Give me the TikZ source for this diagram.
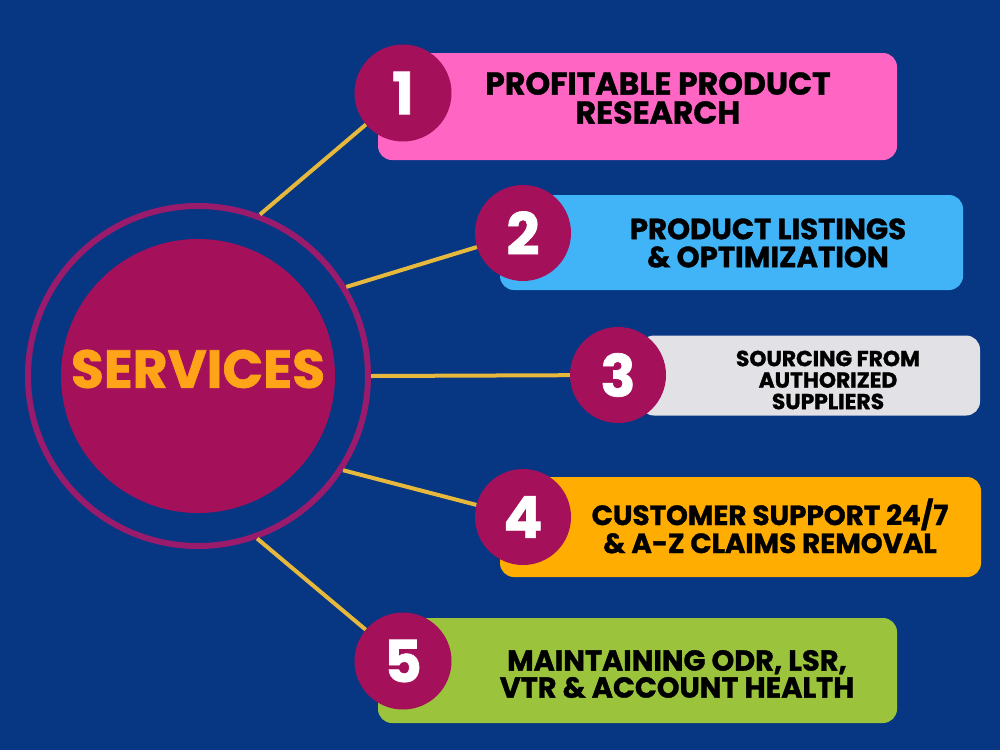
\documentclass[tikz,border=0pt]{standalone}
\usepackage{fontspec}
\setmainfont{Poppins}[BoldFeatures={FakeBold=1.2}]
\definecolor{bgblue}{HTML}{073683}
\definecolor{ringcol}{HTML}{9A1B6C}
\definecolor{corecol}{HTML}{A5105A}
\definecolor{goldline}{HTML}{E6B83C}
\definecolor{titlecol}{HTML}{FFA418}
\definecolor{pinkbox}{HTML}{FF66C4}
\definecolor{bluebox}{HTML}{40B4F7}
\definecolor{graybox}{HTML}{E1E1E6}
\definecolor{orangebox}{HTML}{FFAD00}
\definecolor{greenbox}{HTML}{9BC43C}
\definecolor{numcol}{HTML}{A5105A}
\begin{document}
\begin{tikzpicture}[x=1pt,y=-1pt,
  conn/.style={draw=goldline, line width=4pt},
  numc/.style={circle, fill=numcol, inner sep=0pt, text=white,
    font=\fontsize{58}{58}\selectfont\bfseries},
  card/.style={rounded corners=14pt, inner sep=0pt},
  lbl/.style={align=center, text=black, inner sep=0pt}]
\fill[bgblue] (0,0) rectangle (1000,750);
\useasboundingbox (0,0) rectangle (1000,750);

% central hub
\node[circle, draw=ringcol, line width=6pt, minimum size=340pt, inner sep=0pt] (ring) at (198,376) {};
\node[circle, fill=corecol, minimum size=274pt, inner sep=0pt] (core) at (198,376) {};
\node[text=titlecol, inner sep=0pt, font=\fontsize{53.5}{53.5}\selectfont\bfseries] (title) at (198,369) {SERVICES};

% cards
\node[card, fill=pinkbox, minimum width=519pt, minimum height=107pt] (b1) at (637.5,106.5) {};
\node[card, fill=bluebox, minimum width=463pt, minimum height=95pt] (b2) at (731.5,242.5) {};
\node[card, fill=graybox, minimum width=340pt, minimum height=80pt] (b3) at (810,375.5) {};
\node[card, fill=orangebox, minimum width=481pt, minimum height=100pt] (b4) at (740.5,527) {};
\node[card, fill=greenbox, minimum width=519pt, minimum height=105pt] (b5) at (637.5,670.5) {};

% labels
\node[lbl, font=\fontsize{31.5}{29}\selectfont\bfseries] (t1) at (658,98) {PROFITABLE PRODUCT\\RESEARCH};
\node[lbl, font=\fontsize{29.2}{28}\selectfont\bfseries] (t2) at (768,243) {PRODUCT LISTINGS\\\& OPTIMIZATION};
\node[lbl, font=\fontsize{21.8}{21.5}\selectfont\bfseries] (t3) at (828,380) {SOURCING FROM\\AUTHORIZED\\SUPPLIERS};
\node[lbl, font=\fontsize{27.8}{28}\selectfont\bfseries] (t4) at (770,526) {CUSTOMER SUPPORT 24/7\\\& A-Z CLAIMS REMOVAL};
\node[lbl, font=\fontsize{28.8}{27}\selectfont\bfseries] (t5) at (677,674) {MAINTAINING ODR, LSR,\\VTR \& ACCOUNT HEALTH};

% number circles
\node[numc, minimum size=97pt] (n1) at (403,93) {1};
\node[numc, minimum size=96pt] (n2) at (523,233) {2};
\node[numc, minimum size=96pt] (n3) at (618,375) {3};
\node[numc, minimum size=96pt] (n4) at (523,517) {4};
\node[numc, minimum size=97pt] (n5) at (403,661) {5};

% connectors
\draw[conn] (ring.69) -- (n1);
\draw[conn] (ring.31) -- (n2);
\draw[conn] (ring.0) -- (n3);
\draw[conn] (ring.-33) -- (n4);
\draw[conn] (ring.-70) -- (n5);
\end{tikzpicture}
\end{document}
